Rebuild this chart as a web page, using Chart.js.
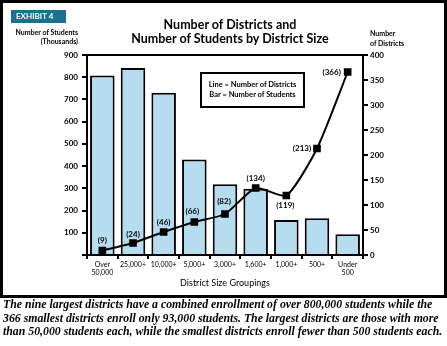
<!DOCTYPE html>
<html>
<head>
<meta charset="utf-8">
<script src="https://cdn.jsdelivr.net/npm/chart.js@4.4.0/dist/chart.umd.min.js"></script>
<style>
  body { margin: 0; background: #fff; }
  #page { position: relative; width: 447px; height: 346px; overflow: hidden; font-family: Lato, "DejaVu Sans", sans-serif; color: #000; }
  #box { position: absolute; left: 0; top: 0; width: 447px; height: 298px; }
  #frame { position: absolute; left: 0; top: 0; width: 447px; height: 298px; box-sizing: border-box; border: 3px solid #000; pointer-events: none; }
  .abs { position: absolute; white-space: nowrap; color: #000; }
  #exhibit { left: 11px; top: 10px; width: 55px; height: 13px; background: #1c6f8d; color: #fff; font-weight: bold; font-size: 8px; line-height: 13px; padding-left: 5px; box-sizing: border-box; }
  #title { left: 80px; width: 300px; top: 18px; text-align: center; font-weight: bold; font-size: 12.5px; line-height: 14px; }
  #ytitleL { right: 369px; top: 28px; text-align: right; font-weight: bold; font-size: 7px; line-height: 9px; }
  #ytitleR { left: 370px; top: 28px; text-align: left; font-weight: bold; font-size: 7px; line-height: 10px; }
  #legendBox { left: 200px; top: 72px; width: 105px; height: 36px; box-sizing: border-box; border: 2px solid #000; font-weight: bold; font-size: 7.5px; line-height: 10px; text-align: center; padding-top: 6px; }
  #caption { left: 3px; top: 298px; font-family: "Liberation Serif", serif; font-weight: bold; font-style: italic; font-size: 11.8px; line-height: 13.5px; }
</style>
</head>
<body>
<div id="page">
  <div id="box"><canvas id="districtChart"></canvas></div>
  <div id="frame"></div>
  <div class="abs" id="exhibit">EXHIBIT 4</div>
  <div class="abs" id="title">Number of Districts and<br>Number of Students by District Size</div>
  <div class="abs" id="ytitleL">Number of Students<br>(Thousands)</div>
  <div class="abs" id="ytitleR">Number<br>of Districts</div>
  <div class="abs" id="legendBox">Line = Number of Districts<br>Bar = Number of Students</div>
  <div class="abs" id="caption">The nine largest districts have a combined enrollment of over 800,000 students while the<br>366 smallest districts enroll only 93,000 students. The largest districts are those with more<br>than 50,000 students each, while the smallest districts enroll fewer than 500 students each.</div>
</div>
<script>
// ---- data ----
var sizeGroups = [['Over', '50,000'], '25,000+', '10,000+', '5,000+', '3,000+', '1,600+', '1,000+', '500+', ['Under', '500']];
var studentsThousands = [808, 842, 730, 430, 318, 298, 157, 165, 93];
var districtCounts = [9, 24, 46, 66, 82, 134, 119, 213, 366];
var studentTicks = [100, 200, 300, 400, 500, 600, 700, 800, 900];
var districtTicks = [0, 50, 100, 150, 200, 250, 300, 350, 400];

var tickFont = { family: 'Lato', size: 8, weight: 'bold' };

// labels "(n)" next to the line points
var pointLabels = {
    id: 'pointLabels',
    afterDatasetsDraw: function (chart) {
        var offsets = [[0, -10], [0, -9], [0, -10], [-2, -11], [-1, -13], [0, -10], [-1, 10], [-15, 0], [-16, 0]];
        var meta = chart.getDatasetMeta(1);
        var ctx = chart.ctx;
        ctx.save();
        ctx.font = 'bold 8px Lato';
        ctx.fillStyle = '#000';
        ctx.textAlign = 'center';
        ctx.textBaseline = 'middle';
        meta.data.forEach(function (pt, i) {
            ctx.fillText('(' + districtCounts[i] + ')', pt.x + offsets[i][0], pt.y + offsets[i][1]);
        });
        ctx.restore();
    }
};

// top edge of the plot box
var topLine = {
    id: 'topLine',
    afterDraw: function (chart) {
        var a = chart.chartArea, ctx = chart.ctx;
        ctx.save();
        ctx.strokeStyle = '#000';
        ctx.lineWidth = 2;
        ctx.beginPath();
        ctx.moveTo(a.left - 5, a.top);
        ctx.lineTo(a.right + 5, a.top);
        ctx.stroke();
        ctx.restore();
    }
};

var ctx = document.getElementById('districtChart').getContext('2d');
var chart = new Chart(ctx, {
    data: {
        labels: sizeGroups,
        datasets: [{
            type: 'bar',
            label: 'Number of Students',
            data: studentsThousands,
            yAxisID: 'yStudents',
            backgroundColor: '#b5dcef',
            borderColor: '#000',
            borderWidth: 2,
            barPercentage: 0.8,
            categoryPercentage: 1,
            order: 2
        }, {
            type: 'line',
            label: 'Number of Districts',
            data: districtCounts,
            yAxisID: 'yDistricts',
            borderColor: '#000',
            borderWidth: 2,
            backgroundColor: '#000',
            pointStyle: 'rect',
            pointRadius: 4,
            tension: 0.2,
            order: 1
        }]
    },
    options: {
        responsive: true,
        maintainAspectRatio: false,
        animation: false,
        layout: { padding: { top: 55, left: 0, right: 0, bottom: 10 } },
        plugins: {
            legend: { display: false },
            tooltip: { enabled: false }
        },
        scales: {
            x: {
                grid: { offset: true, drawOnChartArea: false, color: '#000', lineWidth: 2, tickLength: 4 },
                border: { color: '#000', width: 2 },
                ticks: { color: '#000', font: { family: 'Lato', size: 7, lineHeight: 1.25 }, padding: 1, maxRotation: 0, autoSkip: false },
                title: { display: true, text: 'District Size Groupings', color: '#000', font: { family: 'Lato', size: 9 }, padding: { top: 0, bottom: 0 } },
                afterFit: function (s) { s.height = 33; }
            },
            yStudents: {
                position: 'left',
                min: 0, max: 900,
                afterBuildTicks: function (s) { s.ticks = [0].concat(studentTicks).map(function (v) { return { value: v }; }); },
                grid: { drawOnChartArea: false, color: '#000', lineWidth: 2, tickLength: 5 },
                border: { color: '#000', width: 2 },
                ticks: { color: '#000', font: tickFont, padding: 4, callback: function (v) { return v === 0 ? '' : v; } },
                afterFit: function (s) { s.width = 87; }
            },
            yDistricts: {
                position: 'right',
                min: 0, max: 400,
                afterBuildTicks: function (s) { s.ticks = districtTicks.map(function (v) { return { value: v }; }); },
                grid: { drawOnChartArea: false, color: '#000', lineWidth: 2, tickLength: 5 },
                border: { color: '#000', width: 2 },
                ticks: { color: '#000', font: tickFont, padding: 2 },
                afterFit: function (s) { s.width = 84; }
            }
        }
    },
    plugins: [pointLabels, topLine]
});
</script>
</body>
</html>
